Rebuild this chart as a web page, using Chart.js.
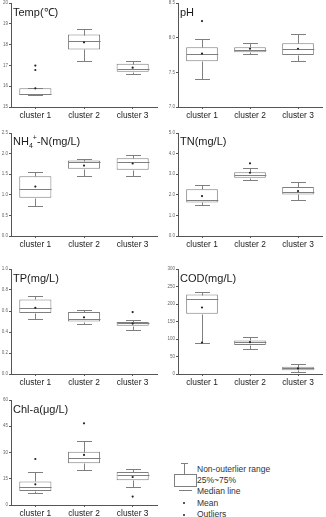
<!DOCTYPE html>
<html>
<head>
<meta charset="utf-8">
<script src="https://cdn.jsdelivr.net/npm/chart.js@4.4.0/dist/chart.umd.min.js"></script>
<style>
  body { margin: 0; background: #fff; width: 326px; height: 517px; position: relative; overflow: hidden; font-family: "Liberation Sans", Arial, sans-serif; }
  canvas { position: absolute; }
  .title { position: absolute; font-size: 11px; line-height: 11px; color: #1a1a1a; white-space: nowrap; }
  .title sub, .title sup { font-size: 7px; line-height: 0; }
  .leg { position: absolute; font-size: 8.5px; line-height: 10px; color: #333; white-space: nowrap; }
  .mk { position: absolute; background: #7f7f7f; }
</style>
</head>
<body>
<script>
// categories and box statistics: [min, q1, median, q3, max, mean] per cluster
const categories = ["cluster 1", "cluster 2", "cluster 3"];

const tempStats = [[15.58, 15.58, 15.62, 15.9, 15.9, 15.9], [17.2, 17.77, 18.16, 18.48, 18.77, 18.11], [16.59, 16.70, 16.81, 17.08, 17.2, 16.89]];
const tempOutliers = [[16.78, 16.99], [], []];
const tempTicks = [15, 16, 17, 18, 19, 20];

const phStats = [[7.41, 7.66, 7.76, 7.86, 7.98, 7.77], [7.77, 7.79, 7.82, 7.86, 7.93, 7.84], [7.66, 7.75, 7.83, 7.92, 8.06, 7.84]];
const phOutliers = [[8.24], [], []];
const phTicks = [7.0, 7.5, 8.0, 8.5];

const nh4Stats = [[0.74, 0.93, 1.13, 1.45, 1.55, 1.20], [1.45, 1.63, 1.79, 1.83, 1.88, 1.71], [1.46, 1.61, 1.79, 1.89, 1.97, 1.76]];
const nh4Outliers = [[], [], []];
const nh4Ticks = [0, 0.5, 1.0, 1.5, 2.0, 2.5];

const tnStats = [[1.52, 1.63, 1.73, 2.27, 2.46, 1.94], [2.72, 2.83, 2.96, 3.09, 3.28, 3.07], [1.76, 2.02, 2.14, 2.38, 2.64, 2.18]];
const tnOutliers = [[], [3.53], []];
const tnTicks = [0, 1, 2, 3, 4, 5];

const tpStats = [[0.52, 0.58, 0.63, 0.71, 0.74, 0.63], [0.48, 0.50, 0.52, 0.59, 0.61, 0.54], [0.42, 0.46, 0.485, 0.495, 0.51, 0.48]];
const tpOutliers = [[], [], [0.59]];
const tpTicks = [0, 0.2, 0.4, 0.6, 0.8, 1.0];

const codStats = [[90, 172, 214, 227, 233, 190], [71, 83, 91, 96, 106, 91], [6, 11, 16, 21, 29, 16]];
const codOutliers = [[90], [], []];
const codTicks = [0, 50, 100, 150, 200, 250, 300];

const chlStats = [[6.9, 8.0, 10.1, 13.5, 18.7, 11.8], [20.0, 23.8, 26.7, 30.5, 36.4, 28.6], [10.5, 14.1, 17.0, 18.9, 20.8, 16.0]];
const chlOutliers = [[26.3], [46.7], [4.8]];
const chlTicks = [0, 15, 30, 45, 60];

const boxColor = "#7f7f7f";
const axisColor = "#555";
const font = "'Liberation Sans', Arial, sans-serif";

// whiskers + median line, drawn right after the boxes
function makeBoxPlugin(stats) {
  return {
    id: "boxWhiskers",
    afterDatasetDraw(chart, args) {
      if (args.index !== 0) return;
      const xs = chart.scales.x, ys = chart.scales.y, ctx = chart.ctx;
      const bars = args.meta.data;
      const py = v => Math.round(ys.getPixelForValue(v)) + 0.5;
      ctx.save();
      ctx.strokeStyle = boxColor;
      ctx.lineWidth = 1;
      stats.forEach((s, i) => {
        const cx = Math.round(xs.getPixelForValue(i)) + 0.5;
        const half = bars[i].width / 2;
        const cap = 7.5;
        ctx.beginPath();
        ctx.moveTo(cx, py(s[3])); ctx.lineTo(cx, py(s[4]));
        ctx.moveTo(cx - cap, py(s[4])); ctx.lineTo(cx + cap, py(s[4]));
        ctx.moveTo(cx, py(s[1])); ctx.lineTo(cx, py(s[0]));
        ctx.moveTo(cx - cap, py(s[0])); ctx.lineTo(cx + cap, py(s[0]));
        ctx.moveTo(cx - half, py(s[2])); ctx.lineTo(cx + half, py(s[2]));
        ctx.stroke();
      });
      ctx.restore();
    }
  };
}

function makePanel(p) {
  const c = document.createElement("canvas");
  c.width = 163;
  c.height = (p.bottom - p.top) + 4 + 16;
  c.style.left = p.left + "px";
  c.style.top = (p.top - 4) + "px";
  document.body.appendChild(c);

  const outPts = [];
  p.outliers.forEach((list, i) => list.forEach(v => outPts.push({ x: categories[i], y: v })));

  new Chart(c, {
    data: {
      labels: categories,
      datasets: [
        { type: "bar", data: p.stats.map(s => [s[1], s[3]]), backgroundColor: "#fff", borderColor: boxColor,
          borderWidth: 1, borderSkipped: false, barPercentage: 0.66, categoryPercentage: 1, order: 2 },
        { type: "line", data: p.stats.map((s, i) => ({ x: categories[i], y: s[5] })), showLine: false,
          pointRadius: 1.1, pointBorderWidth: 0, pointBackgroundColor: "#222", order: 1 },
        { type: "line", data: outPts, showLine: false,
          pointRadius: 1.1, pointBorderWidth: 0, pointBackgroundColor: "#222", order: 1 }
      ]
    },
    options: {
      responsive: false,
      animation: false,
      layout: { padding: { top: 4, right: p.padRight, left: 0, bottom: 0 } },
      plugins: { legend: { display: false }, tooltip: { enabled: false } },
      scales: {
        x: {
          grid: { display: true, drawOnChartArea: false, offset: false, tickLength: 2, color: axisColor },
          border: { color: axisColor },
          ticks: { font: { size: 8.4, family: font }, color: "#222", padding: 2, maxRotation: 0 },
          afterFit: s => { s.height = 16; }
        },
        y: {
          min: p.ticks[0],
          max: p.ticks[p.ticks.length - 1],
          afterBuildTicks: s => { s.ticks = p.ticks.map(v => ({ value: v })); },
          grid: { display: true, drawOnChartArea: false, tickLength: 2, color: axisColor },
          border: { color: axisColor },
          ticks: { font: { size: 4.5, family: font }, color: "#666", padding: 1, callback: v => v.toFixed(p.dec) },
          afterFit: s => { s.width = p.axisW; }
        }
      }
    },
    plugins: [makeBoxPlugin(p.stats)]
  });

  const t = document.createElement("div");
  t.className = "title";
  t.innerHTML = p.title;
  t.style.left = (p.left + p.axisW + 2) + "px";
  t.style.top = (p.titleBase - 9) + "px";
  document.body.appendChild(t);
}

const col0 = { left: 0, axisW: 11, padRight: 6 };
const col1 = { left: 163, axisW: 15, padRight: 3 };

makePanel({ ...col0, top: 3, bottom: 107, titleBase: 16, title: "Temp(℃)", stats: tempStats, outliers: tempOutliers, ticks: tempTicks, dec: 0 });
makePanel({ ...col1, top: 3, bottom: 107, titleBase: 16, title: "pH", stats: phStats, outliers: phOutliers, ticks: phTicks, dec: 1 });
makePanel({ ...col0, top: 133, bottom: 236, titleBase: 145, title: "NH<sub>4</sub><sup>+</sup>-N(mg/L)", stats: nh4Stats, outliers: nh4Outliers, ticks: nh4Ticks, dec: 1 });
makePanel({ ...col1, top: 133, bottom: 236, titleBase: 145, title: "TN(mg/L)", stats: tnStats, outliers: tnOutliers, ticks: tnTicks, dec: 1 });
makePanel({ ...col0, top: 269, bottom: 374, titleBase: 282, title: "TP(mg/L)", stats: tpStats, outliers: tpOutliers, ticks: tpTicks, dec: 1 });
makePanel({ ...col1, top: 269, bottom: 374, titleBase: 282, title: "COD(mg/L)", stats: codStats, outliers: codOutliers, ticks: codTicks, dec: 0 });
makePanel({ ...col0, top: 400, bottom: 505, titleBase: 413, title: "Chl-a(μg/L)", stats: chlStats, outliers: chlOutliers, ticks: chlTicks, dec: 0 });

// legend, bottom right
function mk(x, y, w, h, css) {
  const d = document.createElement("div");
  d.className = "mk";
  Object.assign(d.style, { left: x + "px", top: y + "px", width: w + "px", height: h + "px" }, css || {});
  document.body.appendChild(d);
}
function legText(txt, y) {
  const d = document.createElement("div");
  d.className = "leg";
  d.textContent = txt;
  d.style.left = "197px";
  d.style.top = (y - 5) + "px";
  document.body.appendChild(d);
}
mk(181, 463, 7, 1);
mk(184, 463, 1, 11);
mk(174, 474, 21, 11, { background: "#fff", border: "1px solid #7f7f7f" });
mk(179, 490, 13, 1);
mk(183, 502, 2, 2, { background: "#222", borderRadius: "1px" });
mk(183, 514, 2, 2, { background: "#222", borderRadius: "1px" });
legText("Non-outerlier range", 469);
legText("25%~75%", 480);
legText("Median line", 491);
legText("Mean", 503);
legText("Outliers", 514);
</script>
</body>
</html>
